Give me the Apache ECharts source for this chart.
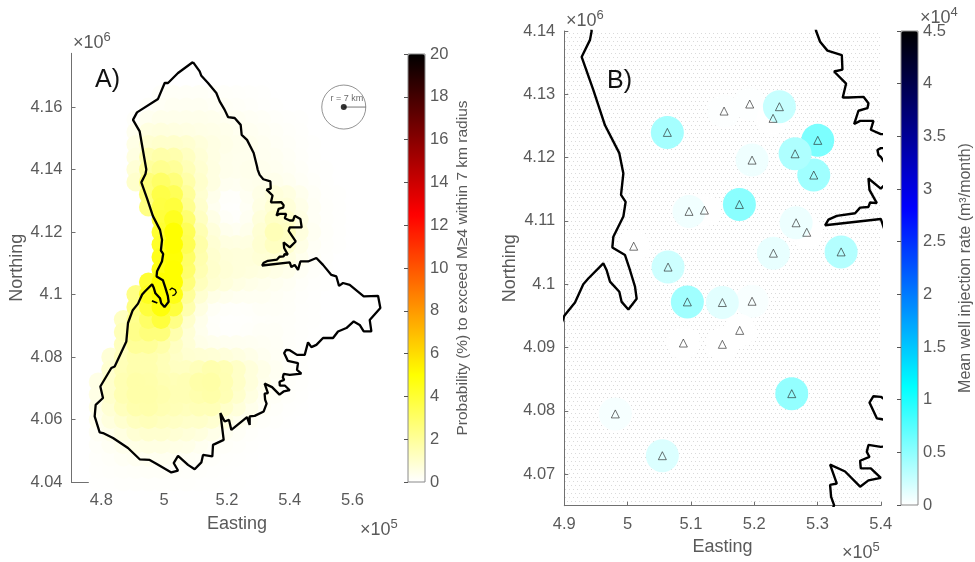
<!DOCTYPE html>
<html><head><meta charset="utf-8">
<style>html,body{margin:0;padding:0;background:#fff}#c{width:975px;height:562px}</style>
<script src="https://cdn.jsdelivr.net/npm/echarts@6/dist/echarts.min.js"></script>
</head><body><div id="c"></div>
<script>
// Province outline, x in 1e5, y in 1e6
const outlineX = [5.0919,5.1132,5.1185,5.1397,5.1662,5.1769,5.1928,5.2034,5.2246,5.2437,5.2469,5.2639,5.2851,5.2958,5.2978,5.3041,5.3157,5.3384,5.3394,5.3262,5.3452,5.3399,5.3489,5.3726,5.3805,5.3789,5.3647,5.3579,5.3673,5.3884,5.3842,5.4,5.4104,5.4157,5.4338,5.438,5.4,5.3947,5.3963,5.4,5.4189,5.4,5.3805,5.3821,5.3937,5.3831,5.3805,5.3673,5.3594,5.3305,5.3173,5.312,5.4,5.4051,5.4157,5.4263,5.4338,5.4582,5.4847,5.5059,5.5325,5.5484,5.5569,5.5696,5.5909,5.6355,5.6811,5.6885,5.6546,5.6599,5.6355,5.6227,5.6036,5.5803,5.5537,5.5378,5.5059,5.4847,5.4688,5.4582,5.4476,5.4231,5.4,5.3884,5.3821,5.3937,5.4,5.4263,5.4231,5.4369,5.4,5.3805,5.3779,5.3821,5.3673,5.3684,5.3842,5.4,5.3805,5.3673,5.3436,5.3199,5.3305,5.3199,5.3215,5.3262,5.317,5.2883,5.2724,5.2724,5.2639,5.214,5.2066,5.1928,5.179,5.1896,5.1556,5.1535,5.1238,5.1185,5.0972,5.076,5.0442,5.0304,5.0442,5.0229,4.9752,4.9539,4.9221,4.8849,4.8372,4.8053,4.7947,4.7788,4.782,4.8053,4.7968,4.8318,4.8425,4.8796,4.8849,4.9,4.9169,4.93,4.9379,4.9616,4.9669,4.9722,4.9869,4.9906,5.0012,5.0143,5.0117,5.0038,4.9959,4.9759,4.9775,4.9933,4.9969,4.9896,4.9933,4.9869,4.9643,4.9458,4.9274,4.9406,4.9432,4.9221,4.9008,4.9136,4.9805,5.0017,5.0123,5.0442,5.0919];
const outlineY = [4.1744,4.1714,4.17,4.1677,4.1645,4.1618,4.1591,4.1568,4.1565,4.1543,4.1511,4.1495,4.1453,4.141,4.14,4.1383,4.1369,4.1362,4.1339,4.1336,4.1317,4.1295,4.1295,4.1296,4.1286,4.1278,4.1274,4.1253,4.1258,4.1258,4.1244,4.1237,4.1237,4.1252,4.1242,4.1215,4.1215,4.1212,4.1204,4.1201,4.117,4.1151,4.1167,4.1149,4.1128,4.1129,4.1122,4.1121,4.1112,4.1108,4.1102,4.1093,4.1103,4.1088,4.1095,4.1079,4.1106,4.1106,4.1117,4.1095,4.1063,4.1058,4.1028,4.1037,4.1031,4.0994,4.0996,4.0957,4.0919,4.0882,4.0882,4.0903,4.0914,4.0893,4.0882,4.0861,4.0861,4.0839,4.0832,4.0847,4.0807,4.0807,4.0822,4.0823,4.0813,4.0788,4.0787,4.0781,4.0759,4.0747,4.0743,4.0746,4.0735,4.0727,4.0721,4.0709,4.0709,4.0694,4.069,4.068,4.0704,4.0715,4.0685,4.0683,4.0664,4.0651,4.0626,4.0612,4.061,4.0583,4.0608,4.0567,4.0599,4.0594,4.0621,4.0535,4.0519,4.0482,4.0487,4.0463,4.0441,4.0455,4.0484,4.0461,4.0437,4.0431,4.0459,4.0471,4.0473,4.0509,4.0541,4.0557,4.0559,4.061,4.0647,4.0669,4.0706,4.0765,4.077,4.085,4.0909,4.095,4.0971,4.1,4.1009,4.1033,4.1022,4.1004,4.0988,4.0972,4.096,4.0977,4.0996,4.1022,4.1046,4.1058,4.1075,4.1107,4.113,4.1141,4.1175,4.1207,4.1251,4.1307,4.1359,4.1386,4.14,4.1522,4.1559,4.1583,4.1626,4.1677,4.1677,4.1709,4.1744];
const hookX = [5.0175,5.0249,5.0356,5.0388,5.0334,5.0261];
const hookY = [4.1015,4.1021,4.1015,4.1007,4.0999,4.0997];
const dashX = [4.9612,4.9783];
const dashY = [4.098,4.0973];

// Probability (%)
const heatColumns = [4.79,4.83,4.87,4.91,4.95,4.99,5.03,5.07,5.11,5.15,5.19,5.23,5.27,5.31,5.35,5.39,5.43,5.47,5.51,5.55,5.59,5.63,5.67,5.71,5.75];
const heatRowsY = [4.164,4.16,4.156,4.152,4.148,4.144,4.14,4.136,4.132,4.128,4.124,4.12,4.116,4.112,4.108,4.104,4.10,4.096,4.092,4.088,4.084,4.08,4.076,4.072,4.068,4.064,4.06,4.056,4.052,4.048,4.044,4.04];
const heatStart = [5,4,3,3,3,3,3,3,4,4,5,5,5,5,5,4,3,3,2,2,2,1,1,0,0,0,0,0,0,0,0,0];
const heatRows = [
[.1,.15,.15,.15,.12,.1,.07,.05,.03],
[.1,.2,.25,.25,.25,.2,.18,.14,.1,.06,.03],
[.1,.3,.4,.4,.4,.4,.35,.3,.25,.2,.15,.1,.06,.03],
[.3,.6,.65,.6,.55,.5,.45,.4,.3,.28,.22,.15,.09,.05],
[.5,.9,1.0,1.0,.9,.7,.55,.45,.38,.35,.28,.2,.14,.07,.03],
[.6,1.5,1.7,1.6,1.2,.8,.55,.4,.35,.35,.3,.25,.17,.1,.04],
[.8,1.9,2.2,2.0,1.4,.9,.6,.4,.35,.4,.35,.3,.22,.14,.06,.03],
[1.0,2.6,3.0,2.6,1.7,1.0,.6,.3,.25,.35,.4,.4,.3,.18,.09,.04],
[2.6,3.6,3.3,2.0,.9,.4,.1,.08,.25,.5,.7,.6,.35,.15,.06,.03],
[2.4,3.7,3.8,2.2,1.0,.3,.05,.03,.2,.55,.85,.75,.45,.2,.08,.03],
[3.8,4.4,2.8,1.2,.5,.15,.08,.25,.7,1.1,1.0,.55,.2,.08,.03],
[4.0,5.0,3.3,1.5,.7,.35,.25,.4,.85,1.4,1.2,.65,.25,.1,.04],
[4.2,5.0,3.4,1.7,.85,.6,.55,.6,.9,1.2,.95,.5,.2,.07,.03],
[4.5,4.9,3.0,1.6,.95,.75,.7,.7,.8,.85,.6,.35,.14,.06],
[4.6,5.0,2.9,1.5,1.0,.8,.7,.65,.6,.5,.4,.2,.09,.04],
[4.0,5.0,5.0,2.6,1.3,.9,.7,.55,.45,.38,.3,.22,.12,.06,.03],
[2.4,4.4,5.0,4.6,2.0,.9,.5,.35,.28,.25,.25,.2,.14,.07,.03],
[2.4,3.8,4.8,3.8,1.6,.6,.2,.1,.08,.1,.15,.15,.12,.06,.03],
[1.2,2.2,3.0,3.8,2.4,1.0,.4,.1,.03,.03,.05,.1,.12,.1,.06,.03],
[1.4,2.3,2.6,2.6,1.6,.8,.35,.12,.05,.05,.1,.15,.15,.1,.05,.02],
[1.3,2.0,2.0,1.7,1.2,.8,.45,.35,.3,.28,.25,.22,.18,.1,.05,.02],
[.8,1.3,1.6,1.6,1.4,1.1,.9,.85,.8,.7,.6,.45,.3,.2,.1,.05,.02],
[.9,1.4,1.6,1.6,1.4,1.2,1.2,1.35,1.6,1.45,1.1,.7,.45,.25,.12,.05,.02],
[.5,1.0,1.5,1.7,1.65,1.5,1.4,1.45,1.7,1.75,1.5,1.1,.7,.4,.22,.1,.05,.02],
[.5,1.0,1.5,1.7,1.7,1.6,1.45,1.45,1.6,1.7,1.45,1.0,.6,.3,.15,.07,.03],
[.45,.85,1.3,1.6,1.65,1.5,1.4,1.3,1.4,1.4,1.05,.7,.4,.2,.1,.04,.02],
[.35,.65,.95,1.25,1.35,1.25,1.15,1.05,1.05,.9,.6,.35,.2,.1,.05,.02],
[.2,.4,.6,.85,.95,.95,.85,.75,.65,.45,.28,.15,.08,.04,.02],
[.12,.22,.35,.5,.55,.55,.5,.45,.3,.2,.12,.07,.03,.02],
[.08,.12,.2,.25,.28,.3,.25,.2,.15,.1,.05,.03,.02],
[.05,.08,.1,.12,.13,.13,.12,.1,.07,.05,.03,.02,.01],
[.03,.04,.05,.05,.06,.06,.05,.05,.04,.03,.02,.01,0,0,0,0,0,0,0,0,0,0,0,0,0]
];

// Wells in panel B; rate in 1e4 m3/month
const wellX = [5.1524,5.1929,5.2298,5.2398,5.3004,5.2941,5.2646,5.1966,5.1766,5.1213,5.097,5.283,5.2662,5.2303,5.3373,5.0096,5.0639,5.0944,5.1966,5.1497,5.1771,5.0881,5.1497,5.2593,4.9806,5.0549,5.0628];
const wellY = [4.12735,4.12846,4.1262,4.12804,4.12272,4.11724,4.1206,4.1196,4.1126,4.1117,4.1115,4.1082,4.1097,4.1049,4.1051,4.106,4.1027,4.0972,4.0973,4.0971,4.0927,4.0907,4.0905,4.0827,4.0795,4.0729,4.12398];
const wellRate = [.01,.01,0,.25,.58,.42,.36,.07,.52,0,.06,0,.08,.1,.33,0,.22,.42,.03,.13,0,0,0,.48,.04,.16,.4];

const insetCenter = [5.572,4.16];
const insetEdge = [5.642,4.16];
const probTicks = {min:0,max:20,interval:2};
const rateTicks = {min:0,max:4.5,interval:.5};
const hotColors = ['#ffffff','#ffff80','#ffff00','#ffaa00','#ff5500','#ff0000','#aa0000','#550000','#000000'];
const coolColors = ['#ffffff','#80ffff','#00ffff','#00aaff','#0055ff','#0000ff','#0000aa','#000055','#000000'];

const heatData = [];
heatRows.forEach((row,j)=>row.forEach((v,i)=>heatData.push([heatColumns[heatStart[j]+i],heatRowsY[j],v])));
heatData.sort((a,b)=>a[2]-b[2]);
const outline = outlineX.map((x,i)=>[x,outlineY[i]]);
const wells = wellX.map((x,i)=>[x,wellY[i],wellRate[i]]);

const tile = document.createElement('canvas'); tile.width=8; tile.height=8;
const tc = tile.getContext('2d'); tc.fillStyle='#dadada';
[[1,1],[5,1],[3,5],[7,5]].forEach(p=>tc.fillRect(p[0],p[1],1,1));

const FONT='"Liberation Sans",Arial,sans-serif', TXT='#5a5a5a', AX='#707070';
const fmt = v=>String(Number(v.toFixed(2)));
const label={color:TXT,fontFamily:FONT,fontSize:16.5,formatter:fmt};
const axisBase={type:'value',splitLine:{show:false},axisLine:{show:true,onZero:false,lineStyle:{color:AX,width:1}},axisTick:{show:true,inside:true,length:4,lineStyle:{color:AX}},nameLocation:'middle',nameTextStyle:{color:TXT,fontFamily:FONT,fontSize:18}};

const chart=echarts.init(document.getElementById('c'),null,{renderer:'canvas'});
const mult=(e,l,tp)=>({type:'text',left:l,top:tp,silent:true,style:{text:`{a|×10}{b|${e}}`,rich:{a:{fontFamily:FONT,fontSize:18,fill:TXT,color:TXT,padding:[6,0,0,0]},b:{fontFamily:FONT,fontSize:13,fill:TXT,color:TXT,padding:[0,0,6,0]}}}});
chart.setOption({
 animation:false,backgroundColor:'#fff',
 grid:[
  {outerBoundsMode:'none',left:71.5,top:53.3,width:331,height:428.8},
  {outerBoundsMode:'none',left:564.3,top:31,width:316.5,height:474.7,show:true,borderWidth:0,backgroundColor:{image:tile,repeat:'repeat'}},
  {outerBoundsMode:'none',left:408,top:54,width:17,height:428,show:true,borderColor:'#8a8a8a',borderWidth:1,backgroundColor:'transparent',z:6},
  {outerBoundsMode:'none',left:901,top:31,width:17,height:474,show:true,borderColor:'#8a8a8a',borderWidth:1,backgroundColor:'transparent',z:6}
 ],
 xAxis:[
  {...axisBase,gridIndex:0,min:4.705,max:5.759,axisLabel:{...label,margin:10,customValues:[4.8,5,5.2,5.4,5.6]},axisTick:{...axisBase.axisTick,customValues:[4.8,5,5.2,5.4,5.6]},name:'Easting',nameGap:33},
  {...axisBase,gridIndex:1,min:4.9,max:5.4,interval:.1,axisLabel:{...label,margin:10},name:'Easting',nameGap:32},
  {gridIndex:2,type:'value',show:false,min:0,max:1},
  {gridIndex:3,type:'value',show:false,min:0,max:1}
 ],
 yAxis:[
  {...axisBase,gridIndex:0,min:4.04,max:4.1772,axisLabel:{...label,margin:9,customValues:[4.04,4.06,4.08,4.1,4.12,4.14,4.16]},axisTick:{...axisBase.axisTick,customValues:[4.04,4.06,4.08,4.1,4.12,4.14,4.16]},name:'Northing',nameGap:43},
  {...axisBase,gridIndex:1,min:4.065,max:4.14,axisLabel:{...label,margin:9,customValues:[4.07,4.08,4.09,4.1,4.11,4.12,4.13,4.14]},axisTick:{...axisBase.axisTick,customValues:[4.07,4.08,4.09,4.1,4.11,4.12,4.13,4.14]},name:'Northing',nameGap:44},
  {...axisBase,gridIndex:2,position:'right',z:7,...probTicks,axisLine:{show:false},axisTick:{...axisBase.axisTick,lineStyle:{color:'#555'}},axisLabel:{...label,margin:5},name:'Probability (%) to exceed M≥4 within 7 km radius',nameGap:30,nameRotate:90,nameTextStyle:{color:TXT,fontFamily:FONT,fontSize:15.5}},
  {...axisBase,gridIndex:3,position:'right',z:7,...rateTicks,axisLine:{show:false},axisTick:{...axisBase.axisTick,lineStyle:{color:'#555'}},axisLabel:{...label,margin:5},name:'Mean well injection rate (m³/month)',nameGap:40,nameRotate:90,nameTextStyle:{color:TXT,fontFamily:FONT,fontSize:16}}
 ],
 visualMap:[
  {type:'continuous',min:0,max:20,dimension:2,seriesIndex:0,left:408,top:54,itemWidth:17,itemHeight:428,padding:0,calculable:false,hoverLink:false,text:null,inRange:{color:hotColors},z:4},
  {type:'continuous',min:0,max:4.5,dimension:2,seriesIndex:6,left:901,top:31,itemWidth:17,itemHeight:474,padding:0,calculable:false,hoverLink:false,text:null,inRange:{color:coolColors},z:4}
 ],
 series:[
  {type:'scatter',xAxisIndex:0,yAxisIndex:0,data:heatData,symbolSize:19,clip:false,itemStyle:{opacity:1},z:2,silent:true},
  {type:'line',xAxisIndex:0,yAxisIndex:0,data:outline,symbol:'none',lineStyle:{color:'#000',width:2.3},z:3,clip:false},
  {type:'line',xAxisIndex:0,yAxisIndex:0,data:hookX.map((x,i)=>[x,hookY[i]]),symbol:'none',lineStyle:{color:'#000',width:1.3},z:3},
  {type:'line',xAxisIndex:0,yAxisIndex:0,data:dashX.map((x,i)=>[x,dashY[i]]),symbol:'none',lineStyle:{color:'#000',width:1.8},z:3},
  {type:'line',xAxisIndex:0,yAxisIndex:0,data:[insetCenter,insetEdge],symbol:'none',lineStyle:{color:'#555',width:.8},z:3},
  {type:'scatter',xAxisIndex:0,yAxisIndex:0,data:[insetCenter],symbolSize:44,itemStyle:{color:'transparent',borderColor:'#555',borderWidth:.8},z:3,label:{show:true,position:'inside',offset:[3,-9],formatter:'r = 7 km',fontFamily:FONT,fontSize:9,color:'#444'}},
  {type:'scatter',xAxisIndex:1,yAxisIndex:1,data:wells,symbolSize:33,itemStyle:{opacity:1},z:2},
  {type:'line',xAxisIndex:1,yAxisIndex:1,data:outline,symbol:'none',lineStyle:{color:'#000',width:2.4},z:3,clip:true},
  {type:'scatter',xAxisIndex:1,yAxisIndex:1,data:wells.map(w=>[w[0],w[1]]),symbol:'triangle',symbolSize:8,itemStyle:{color:'transparent',borderColor:'#222',borderWidth:.8},z:4},
  {type:'scatter',xAxisIndex:0,yAxisIndex:0,data:[insetCenter],symbolSize:6,itemStyle:{color:'#000'},z:4}
 ],
 graphic:[
  {type:'text',left:95,top:68,silent:true,style:{text:'A)',fontFamily:FONT,fontSize:25,fill:'#111'}},
  {type:'text',left:607,top:69,silent:true,style:{text:'B)',fontFamily:FONT,fontSize:25,fill:'#111'}},
  mult(6,73,31),mult(6,566,9),mult(5,360,518),mult(5,842,541),mult(4,920,6)
 ]
});
</script></body></html>
